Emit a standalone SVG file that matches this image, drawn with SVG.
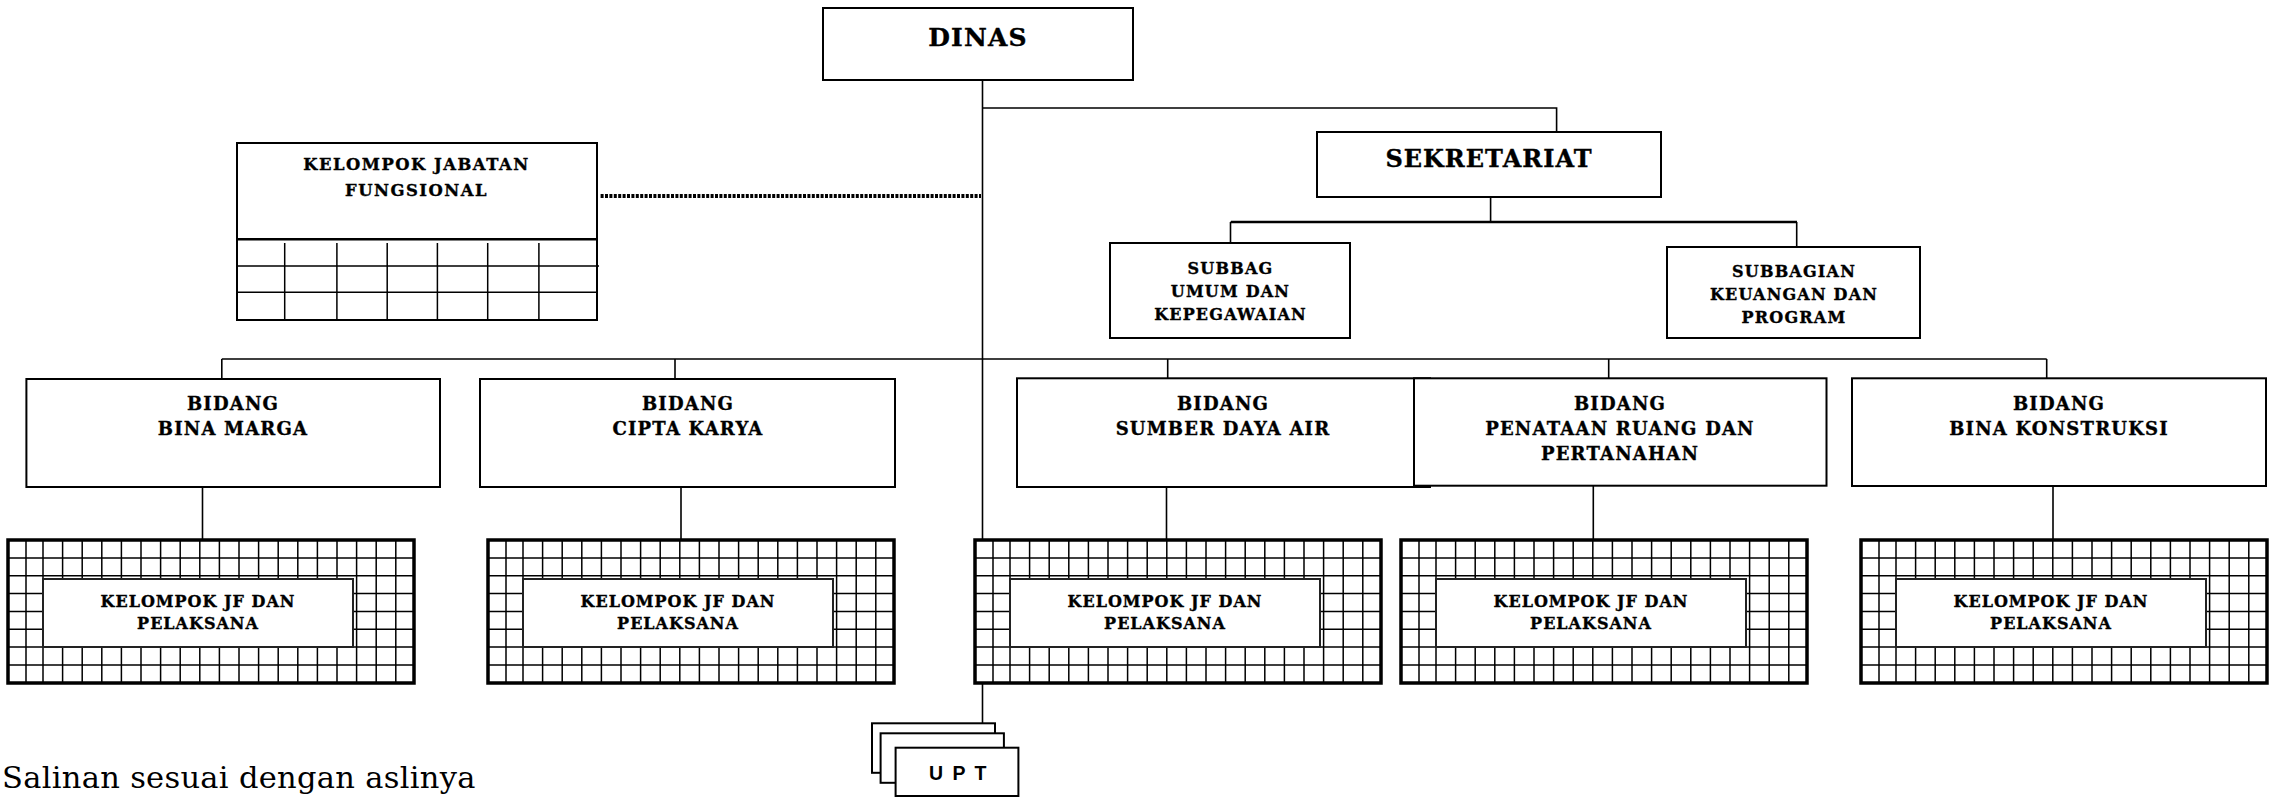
<svg xmlns="http://www.w3.org/2000/svg" xmlns:xlink="http://www.w3.org/1999/xlink" width="2272" height="797" viewBox="0 0 2272 797">
<style>
.box{fill:#fff;stroke:#000;stroke-width:2}
.ln{fill:none;stroke:#000;stroke-width:1.6}
.t{font-family:"DejaVu Serif","Liberation Serif",serif;font-weight:bold;text-anchor:middle;fill:#000;stroke:#000;stroke-width:0.35px}
.s25{font-size:25px;letter-spacing:1.2px}
.s24{font-size:24px;letter-spacing:1px}
.s18{font-size:18px;letter-spacing:1.2px}
.s16{font-size:16px;letter-spacing:1.2px}
.kjf{font-size:16.4px;letter-spacing:1.5px}
.jft{font-size:16px;letter-spacing:1px}
.upt{font-family:"Liberation Sans",Arial,sans-serif;font-weight:bold;font-size:19.5px;letter-spacing:2px;fill:#000}
.foot{font-family:"DejaVu Serif","Liberation Serif",serif;font-size:30.5px;letter-spacing:0.3px;fill:#000}
</style>
<defs>
<g id="jfgrid">
<rect x="0" y="0" width="406" height="143" fill="#fff"/>
<path fill="none" stroke="#000" stroke-width="1.5" d="M18 0V143M35 0V143M54.6 0V143M74.2 0V143M93.8 0V143M113.4 0V143M133 0V143M152.6 0V143M172.2 0V143M191.8 0V143M211.4 0V143M231 0V143M250.6 0V143M270.2 0V143M289.8 0V143M309.4 0V143M329 0V143M348.6 0V143M368.2 0V143M387.8 0V143M0 17.9H406M0 35.7H406M0 53.6H406M0 71.4H406M0 89.3H406M0 107.1H406M0 125H406"/>
<rect x="35" y="39" width="310" height="68" fill="#fff" stroke="#222" stroke-width="2"/>
<rect x="0" y="0" width="406" height="143" fill="none" stroke="#000" stroke-width="3.5"/>
</g>
</defs>

<g id="connectors">
<path class="ln" d="M982.5 80V540M982.5 683V723M982.5 108H1556.6V132M1490.6 197V222M1230.5 222H1796.7M1230.5 222V243M1796.7 222V247M221.8 359H2046.7M221.8 359V379M675 359V379M1167.7 359V378M1608.7 359V378M2046.7 359V378M202.5 487V540M681 487V540M1166.5 487V540M1593.3 486V540M2053 486V540"/>
<path d="M1231 222H1797" fill="none" stroke="#000" stroke-width="2.4"/>
<path d="M600.6 196H981" fill="none" stroke="#000" stroke-width="4" stroke-dasharray="3 1.4"/>
</g>

<g id="dinas">
<rect class="box" x="823" y="8" width="310" height="72"/>
<text class="t s25" x="978" y="46">DINAS</text>
</g>

<g id="sekretariat">
<rect class="box" x="1317" y="132" width="344" height="65"/>
<text class="t s24" x="1489" y="167">SEKRETARIAT</text>
</g>

<g id="subbag-umum">
<rect class="box" x="1110" y="243" width="240" height="95"/>
<text class="t s16" x="1230.5" y="274">SUBBAG</text>
<text class="t s16" x="1230.5" y="297">UMUM DAN</text>
<text class="t s16" x="1230.5" y="320">KEPEGAWAIAN</text>
</g>

<g id="subbag-keuangan">
<rect class="box" x="1667" y="247" width="253" height="91"/>
<text class="t s16" x="1794" y="277">SUBBAGIAN</text>
<text class="t s16" x="1794" y="300">KEUANGAN DAN</text>
<text class="t s16" x="1794" y="323">PROGRAM</text>
</g>

<g id="kelompok-jabatan-fungsional">
<rect class="box" x="237" y="143" width="360" height="177"/>
<path fill="none" stroke="#000" stroke-width="1.5" d="M237 266H599M237 292.3H597M284.7 243V320M336.9 243V320M387.2 243V320M437.4 243V320M487.7 243V320M538.9 243V320"/>
<path fill="none" stroke="#000" stroke-width="2.5" d="M237 239.3H597"/>
<text class="t kjf" x="416.5" y="170">KELOMPOK JABATAN</text>
<text class="t kjf" x="416.5" y="196">FUNGSIONAL</text>
</g>

<g id="bidang-bina-marga">
<rect class="box" x="26.4" y="379" width="413.6" height="108"/>
<text class="t s18" x="233" y="410">BIDANG</text>
<text class="t s18" x="233" y="435">BINA MARGA</text>
</g>

<g id="bidang-cipta-karya">
<rect class="box" x="480" y="379" width="415" height="108"/>
<text class="t s18" x="688" y="410">BIDANG</text>
<text class="t s18" x="688" y="435">CIPTA KARYA</text>
</g>

<g id="bidang-sumber-daya-air">
<rect class="box" x="1017" y="378.3" width="413" height="108.7"/>
<text class="t s18" x="1223" y="410">BIDANG</text>
<text class="t s18" x="1223" y="435">SUMBER DAYA AIR</text>
</g>

<g id="bidang-penataan-ruang">
<rect class="box" x="1414" y="378.3" width="412.5" height="107.4"/>
<text class="t s18" x="1620" y="410">BIDANG</text>
<text class="t s18" x="1620" y="435">PENATAAN RUANG DAN</text>
<text class="t s18" x="1620" y="460">PERTANAHAN</text>
</g>

<g id="bidang-bina-konstruksi">
<rect class="box" x="1852" y="378.3" width="414" height="107.7"/>
<text class="t s18" x="2059" y="410">BIDANG</text>
<text class="t s18" x="2059" y="435">BINA KONSTRUKSI</text>
</g>

<g id="jf-bina-marga">
<use xlink:href="#jfgrid" href="#jfgrid" x="8" y="540"/>
<text class="t jft" x="198" y="607">KELOMPOK JF DAN</text>
<text class="t jft" x="198" y="628.5">PELAKSANA</text>
</g>

<g id="jf-cipta-karya">
<use xlink:href="#jfgrid" href="#jfgrid" x="488" y="540"/>
<text class="t jft" x="678" y="607">KELOMPOK JF DAN</text>
<text class="t jft" x="678" y="628.5">PELAKSANA</text>
</g>

<g id="jf-sumber-daya-air">
<use xlink:href="#jfgrid" href="#jfgrid" x="975" y="540"/>
<text class="t jft" x="1165" y="607">KELOMPOK JF DAN</text>
<text class="t jft" x="1165" y="628.5">PELAKSANA</text>
</g>

<g id="jf-penataan-ruang">
<use xlink:href="#jfgrid" href="#jfgrid" x="1401" y="540"/>
<text class="t jft" x="1591" y="607">KELOMPOK JF DAN</text>
<text class="t jft" x="1591" y="628.5">PELAKSANA</text>
</g>

<g id="jf-bina-konstruksi">
<use xlink:href="#jfgrid" href="#jfgrid" x="1861" y="540"/>
<text class="t jft" x="2051" y="607">KELOMPOK JF DAN</text>
<text class="t jft" x="2051" y="628.5">PELAKSANA</text>
</g>

<g id="upt">
<rect class="box" x="872" y="723.3" width="123" height="49.5"/>
<rect class="box" x="880.6" y="733.3" width="123.3" height="49.5"/>
<rect class="box" x="895.6" y="747.7" width="122.8" height="48.3"/>
<text class="upt" x="929" y="780">U P T</text>
</g>

<g id="footer">
<text class="foot" x="2" y="788">Salinan sesuai dengan aslinya</text>
</g>
</svg>
